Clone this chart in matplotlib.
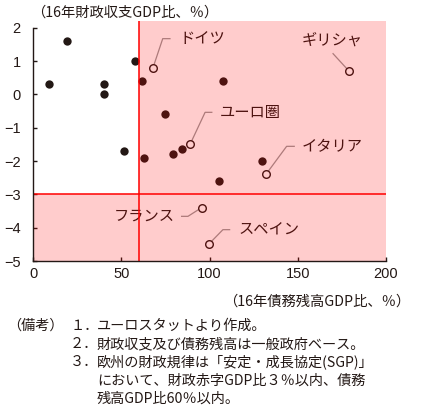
import matplotlib.pyplot as plt

plt.rcParams["font.family"] = ["Noto Sans CJK JP", "DejaVu Sans"]

INK = "#231815"

# other EU members: (debt % of GDP, fiscal balance % of GDP), 2016
OTHER_DEBT = [9, 19, 40, 40, 58, 62, 75, 51.5, 63, 79.5, 84.5, 107.5, 105.5, 130]
OTHER_BALANCE = [0.3, 1.6, 0.3, 0.0, 1.0, 0.4, -0.6, -1.7, -1.9, -1.8, -1.65, 0.4, -2.6, -2.0]

# highlighted countries
NAMED = ["ドイツ", "ギリシャ", "ユーロ圏", "イタリア", "フランス", "スペイン"]
NAMED_DEBT = [68, 179, 89, 132, 95.5, 99.5]
NAMED_BALANCE = [0.8, 0.7, -1.5, -2.4, -3.4, -4.5]

# leader line / label placement (data units)
ELBOW_X = [73.5, 170.0, 97.5, 143.7, 87.8, 107.6]
ELBOW_Y = [1.67, 1.22, -0.54, -1.56, -3.66, -4.06]
END_X = [77.6, 170.0, 101.3, 148.0, 84.2, 111.4]
LABEL_X = [83.0, 169.5, 106.0, 152.0, 80.5, 116.5]
LABEL_Y = [1.67, 1.62, -0.54, -1.56, -3.66, -4.06]
LABEL_HA = ["left", "center", "left", "left", "right", "left"]

DEBT_LIMIT = 60
DEFICIT_LIMIT = -3

NOTES = [
    ("（備考）", "１．", "ユーロスタットより作成。"),
    ("", "２．", "財政収支及び債務残高は一般政府ベース。"),
    ("", "３．", "欧州の財政規律は「安定・成長協定(SGP)」"),
    ("", "", "において、財政赤字GDP比３％以内、債務"),
    ("", "", "残高GDP比60％以内。"),
]

W, H = 426, 418
fig = plt.figure(figsize=(W / 100, H / 100), dpi=100)
ax = fig.add_axes([33 / W, 1 - 261 / H, 353 / W, 240 / H])
ax.set_xlim(0, 200)
ax.set_ylim(-5, 2.2)

# leaders
for i in range(len(NAMED)):
    ax.plot([NAMED_DEBT[i], ELBOW_X[i], END_X[i]],
            [NAMED_BALANCE[i], ELBOW_Y[i], ELBOW_Y[i]],
            color="#999999", lw=0.9, zorder=1)
    ax.text(LABEL_X[i], LABEL_Y[i], NAMED[i], ha=LABEL_HA[i], va="center",
            fontsize=11, color=INK, zorder=2)

ax.scatter(OTHER_DEBT, OTHER_BALANCE, s=36, color=INK, lw=0, zorder=2)
ax.scatter(NAMED_DEBT, NAMED_BALANCE, s=30, facecolor="white",
           edgecolor=INK, lw=1.0, zorder=2)

# SGP violation zone
ax.axvspan(DEBT_LIMIT, 200, color="red", alpha=0.2, lw=0, zorder=3)
ax.fill_between([0, DEBT_LIMIT], -5, DEFICIT_LIMIT, color="red", alpha=0.2,
                lw=0, zorder=3)
ax.axvline(DEBT_LIMIT, color="red", lw=1.1, zorder=4)
ax.axhline(DEFICIT_LIMIT, color="red", lw=1.1, zorder=4)

ax.spines["top"].set_visible(False)
ax.spines["right"].set_visible(False)
for side in ["left", "bottom"]:
    ax.spines[side].set_color(INK)
    ax.spines[side].set_linewidth(1.0)
    ax.spines[side].set_zorder(5)
ax.spines["left"].set_bounds(-5, 2)

ax.set_xticks([0, 50, 100, 150, 200])
ax.set_yticks([-5, -4, -3, -2, -1, 0, 1, 2])
ax.tick_params(direction="in", length=3, width=1, color=INK,
               labelsize=10.5, labelcolor=INK)
ax.tick_params(axis="y", pad=9)
ax.tick_params(axis="x", pad=4)
for lbl in ax.get_xticklabels() + ax.get_yticklabels():
    lbl.set_family(["Liberation Sans", "DejaVu Sans"])

fig.text(31 / W, 1 - 13 / H, "（16年財政収支GDP比、％）", ha="left",
         va="center", fontsize=10.3, color=INK)
fig.text(410 / W, 1 - 302 / H, "（16年債務残高GDP比、％）", ha="right",
         va="center", fontsize=10.3, color=INK)

note_y = [326, 344, 362, 381, 399]
for (head, num, body), y in zip(NOTES, note_y):
    if head:
        fig.text(7 / W, 1 - y / H, head, ha="left", va="center",
                 fontsize=10.2, color=INK)
    if num:
        fig.text(70 / W, 1 - y / H, num, ha="left", va="center",
                 fontsize=10.2, color=INK)
    fig.text(97 / W, 1 - y / H, body, ha="left", va="center",
             fontsize=10.2, color=INK)

fig.savefig("out.png", dpi=100)
